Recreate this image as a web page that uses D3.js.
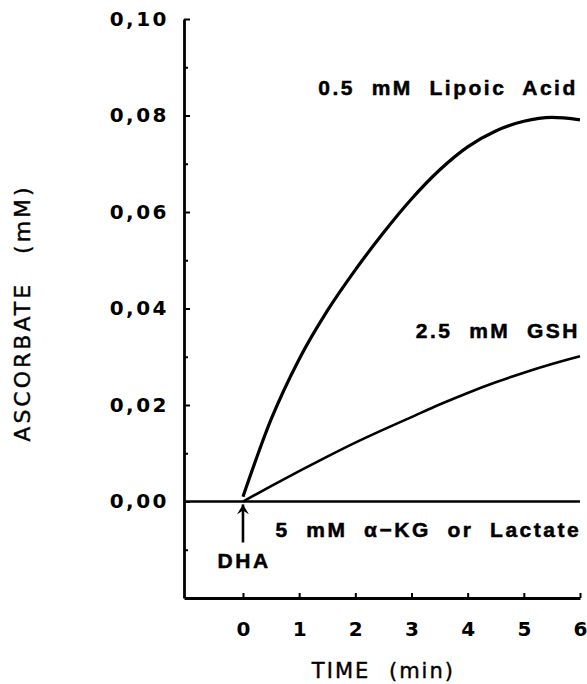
<!DOCTYPE html>
<html lang="en">
<head>
<meta charset="utf-8">
<title>Ascorbate formation from DHA</title>
<script src="https://d3js.org/d3.v7.min.js"></script>
<style>
  body { margin: 0; background: #fff; }
  text { fill: #000; }
  .domain { stroke: #000; stroke-width: 2.8px; }
  .tick line { stroke: #000; stroke-width: 2px; }
  .num { font-family: "DejaVu Sans", sans-serif; font-weight: bold; }
  .note { font-family: "Liberation Sans", Arial, sans-serif; font-weight: bold; stroke: #000; stroke-width: 0.5px; }
  .title { font-family: "DejaVu Sans", sans-serif; stroke: #000; stroke-width: 0.4px; }
</style>
</head>
<body>
<div id="chart"></div>
<script>

// time points (min)
var times = [0, 0.5, 1, 1.5, 2, 2.5, 3, 3.5, 4, 4.5, 5, 5.5, 6];

// ascorbate (mM)
var lipoic  = [0.001, 0.0170, 0.0295, 0.0395, 0.0480, 0.0557, 0.0627, 0.0687, 0.0735, 0.0768, 0.0788, 0.0796, 0.0791];
var gsh     = [0, 0.0032, 0.0063, 0.0093, 0.0122, 0.0149, 0.0175, 0.0201, 0.0225, 0.0247, 0.0267, 0.0285, 0.0301];
var control = [0, 0, 0, 0, 0, 0, 0, 0, 0, 0, 0, 0, 0];   // 5 mM a-KG or lactate

// ticks
var xTicks = [0, 1, 2, 3, 4, 5, 6];
var yTicks = [0, 0.02, 0.04, 0.06, 0.08, 0.10];
var yMinor = [-0.01, 0.01, 0.03, 0.05, 0.07, 0.09];

var w = 587, h = 684;

var svg = d3.select("#chart").append("svg")
    .attr("width", w)
    .attr("height", h);

var x = d3.scaleLinear().domain([-1.05, 6]).range([184, 580]);
var y = d3.scaleLinear().domain([-0.02, 0.10]).range([598, 19]);

// y axis, ticks point inward
var yAxis = d3.axisLeft(y)
    .tickValues(yTicks)
    .tickSizeInner(-6)
    .tickSizeOuter(0)
    .tickPadding(15)
    .tickFormat(d => d.toFixed(2).replace(".", ","));

var gy = svg.append("g")
    .attr("transform", `translate(${x(-1.05)},0)`)
    .call(yAxis);
gy.selectAll("text")
    .attr("class", "num")
    .style("font-size", "20px")
    .style("letter-spacing", "2.5px");

svg.append("g")
    .attr("transform", `translate(${x(-1.05)},0)`)
    .call(d3.axisLeft(y).tickValues(yMinor).tickSizeInner(-4).tickSizeOuter(0).tickFormat(""))
    .select(".domain").remove();

// x axis
var xAxis = d3.axisBottom(x)
    .tickValues(xTicks)
    .tickSizeInner(-5)
    .tickSizeOuter(0)
    .tickPadding(24)
    .tickFormat(d3.format("d"));

var gx = svg.append("g")
    .attr("transform", `translate(0,${y(-0.02)})`)
    .call(xAxis);
gx.selectAll("text")
    .attr("class", "num")
    .style("font-size", "20px");

// axis titles
svg.append("text")
    .attr("class", "title")
    .attr("x", x(2.5))
    .attr("y", 678)
    .attr("text-anchor", "middle")
    .style("font-size", "21px")
    .style("letter-spacing", "2px")
    .style("word-spacing", "10px")
    .text("TIME (min)");

svg.append("text")
    .attr("class", "title")
    .attr("transform", `translate(30,${313}) rotate(-90)`)
    .attr("text-anchor", "middle")
    .style("font-size", "22px")
    .style("letter-spacing", "3px")
    .style("word-spacing", "18px")
    .text("ASCORBATE (mM)");

// curves
var line = d3.line()
    .x((d, i) => x(times[i]))
    .y(d => y(d))
    .curve(d3.curveMonotoneX);

svg.append("path")
    .datum(lipoic)
    .attr("d", line)
    .attr("fill", "none")
    .attr("stroke", "#000")
    .attr("stroke-width", 3.2);

svg.append("path")
    .datum(gsh)
    .attr("d", line)
    .attr("fill", "none")
    .attr("stroke", "#000")
    .attr("stroke-width", 2.6);

svg.append("path")
    .datum([0].concat(control))
    .attr("d", d3.line()
        .x((d, i) => i == 0 ? x(-1.05) : x(times[i - 1]))
        .y(d => y(d)))
    .attr("fill", "none")
    .attr("stroke", "#000")
    .attr("stroke-width", 2.6);

// DHA arrow
svg.append("defs").append("marker")
    .attr("id", "head")
    .attr("viewBox", "0 0 10 12")
    .attr("refX", 10)
    .attr("refY", 6)
    .attr("markerWidth", 10)
    .attr("markerHeight", 12)
    .attr("markerUnits", "userSpaceOnUse")
    .attr("orient", "auto")
  .append("path")
    .attr("d", "M0,0 L10,6 L0,12 L4,6 Z")
    .attr("fill", "#000");

svg.append("line")
    .attr("x1", x(0)).attr("x2", x(0))
    .attr("y1", y(-0.0085)).attr("y2", y(-0.0006))
    .attr("stroke", "#000")
    .attr("stroke-width", 2.6)
    .attr("marker-end", "url(#head)");

// annotations
var notes = [
    {t: "0.5  mM  Lipoic  Acid", tx: 5.96, v: 0.0842, anchor: "end"},
    {t: "2.5  mM  GSH", tx: 6.0, v: 0.0339, anchor: "end"},
    {t: "5  mM  \u03b1\u2212KG  or  Lactate", tx: 6.02, v: -0.0074, anchor: "end"},
    {t: "DHA", tx: 0.02, v: -0.0138, anchor: "middle"}
];

svg.selectAll("text.note")
    .data(notes)
    .enter()
    .append("text")
    .attr("class", "note")
    .attr("x", d => x(d.tx))
    .attr("y", d => y(d.v))
    .attr("text-anchor", d => d.anchor)
    .style("font-size", "21px")
    .style("letter-spacing", "2.5px")
    .style("white-space", "pre")
    .text(d => d.t);

</script>
</body>
</html>
